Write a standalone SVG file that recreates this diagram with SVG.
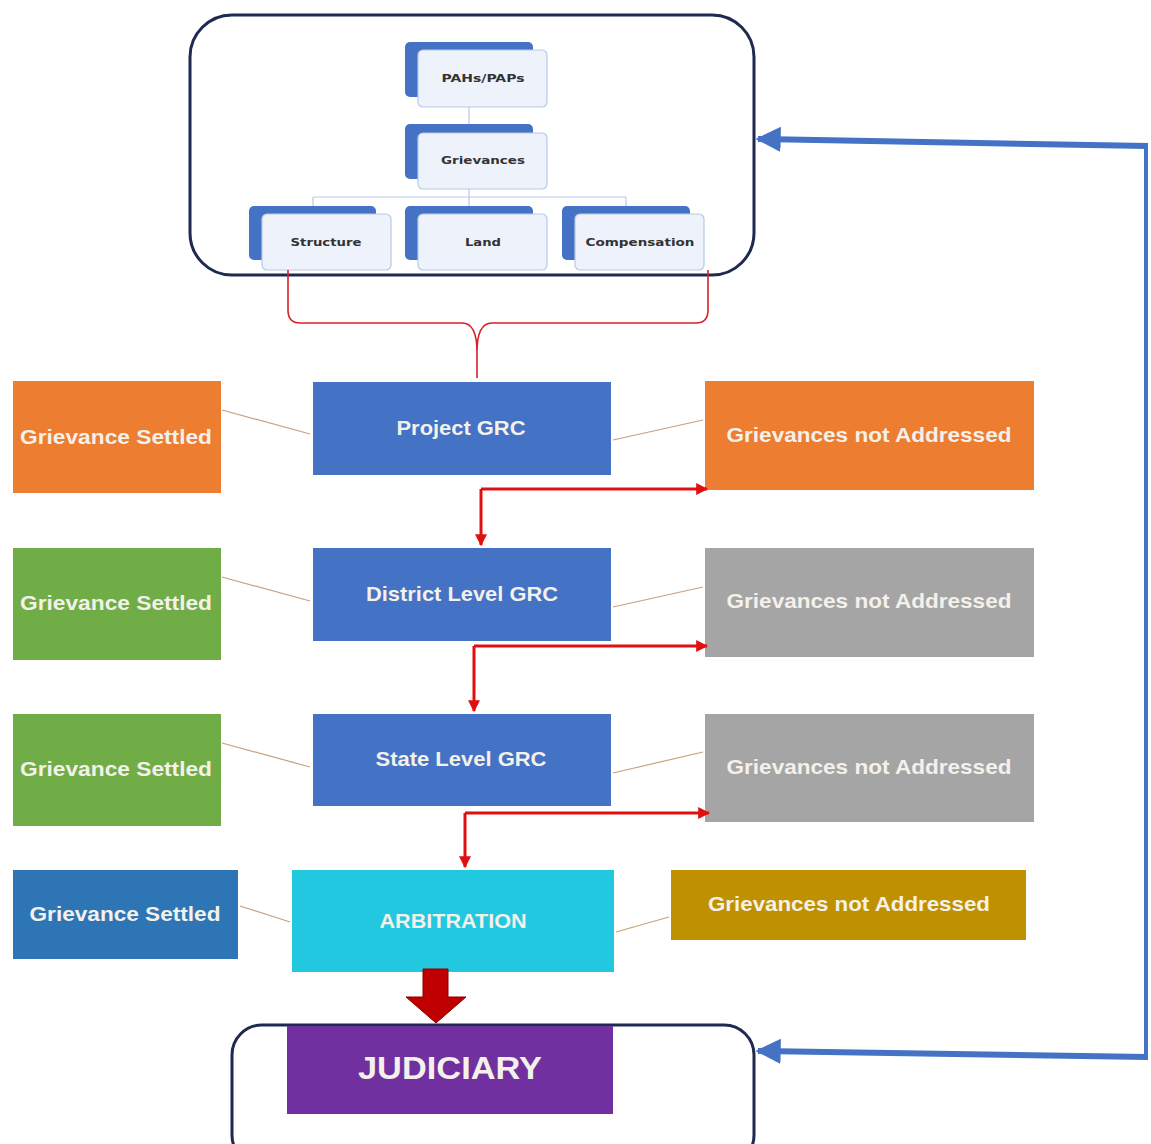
<svg xmlns="http://www.w3.org/2000/svg" width="1151" height="1144" viewBox="0 0 1151 1144">
<defs>
<style>
.frame{fill:none;stroke:#1f2a50;stroke-width:3}
.back{fill:#4472c4}
.front{fill:#eef2fa;stroke:#b8c9e6;stroke-width:1.2}
.otxt{font-family:"DejaVu Sans",Verdana,sans-serif;font-size:11px;font-weight:bold;fill:#333;text-anchor:middle}
.org{stroke:#b8c9e6;stroke-width:1.2;fill:none}
.t{font-family:"Liberation Sans",Arial,sans-serif;font-size:21px;font-weight:bold;fill:#f4f0ea;text-anchor:middle;dominant-baseline:middle}
.thin{stroke:#c8a07c;stroke-width:1.2;fill:none}
.red{stroke:#e01010;stroke-width:3;fill:none}
.brace{stroke:#d8202a;stroke-width:1.6;fill:none}
.blue{stroke:#4472c4;stroke-width:6;fill:none}
</style>
<marker id="ra" viewBox="0 0 10 10" refX="9" refY="5" markerWidth="4" markerHeight="4" orient="auto" markerUnits="strokeWidth">
<path d="M0,0 L10,5 L0,10 z" fill="#e01010"/>
</marker>
<marker id="ba" viewBox="0 0 10 10" refX="9" refY="5" markerWidth="4.2" markerHeight="4.2" orient="auto" markerUnits="strokeWidth">
<path d="M0,0 L10,5 L0,10 z" fill="#4472c4"/>
</marker>
</defs>
<rect width="1151" height="1144" fill="#ffffff"/>

<g id="top-frame">
<rect class="frame" x="190" y="15" width="564" height="260" rx="42"/>
</g>

<g id="org-lines">
<line class="org" x1="469" y1="107" x2="469" y2="124"/>
<line class="org" x1="469" y1="189" x2="469" y2="197"/>
<line class="org" x1="313" y1="197" x2="626" y2="197"/>
<line class="org" x1="313" y1="197" x2="313" y2="206"/>
<line class="org" x1="469" y1="197" x2="469" y2="206"/>
<line class="org" x1="626" y1="197" x2="626" y2="206"/>
</g>

<g id="node-paps">
<rect class="back" x="405" y="42" width="128" height="55" rx="5"/>
<rect class="front" x="418" y="50" width="129" height="57" rx="5"/>
<text class="otxt" x="483" y="82" textLength="83" lengthAdjust="spacingAndGlyphs">PAHs/PAPs</text>
</g>
<g id="node-grievances">
<rect class="back" x="405" y="124" width="128" height="55" rx="5"/>
<rect class="front" x="418" y="133" width="129" height="56" rx="5"/>
<text class="otxt" x="483" y="164" textLength="84" lengthAdjust="spacingAndGlyphs">Grievances</text>
</g>
<g id="node-structure">
<rect class="back" x="249" y="206" width="127" height="54" rx="5"/>
<rect class="front" x="262" y="214" width="129" height="56" rx="5"/>
<text class="otxt" x="326" y="246" textLength="71" lengthAdjust="spacingAndGlyphs">Structure</text>
</g>
<g id="node-land">
<rect class="back" x="405" y="206" width="128" height="54" rx="5"/>
<rect class="front" x="418" y="214" width="129" height="56" rx="5"/>
<text class="otxt" x="483" y="246" textLength="36" lengthAdjust="spacingAndGlyphs">Land</text>
</g>
<g id="node-compensation">
<rect class="back" x="562" y="206" width="128" height="54" rx="5"/>
<rect class="front" x="575" y="214" width="129" height="56" rx="5"/>
<text class="otxt" x="640" y="246" textLength="109" lengthAdjust="spacingAndGlyphs">Compensation</text>
</g>

<g id="node-project-grc">
<rect x="313" y="382" width="298" height="93" fill="#4472c4"/>
<text class="t" x="461" y="429" textLength="129" lengthAdjust="spacingAndGlyphs">Project GRC</text>
</g>
<g id="node-settled-1">
<rect x="13" y="381" width="208" height="112" fill="#ed7d31"/>
<text class="t" x="116" y="438" textLength="192" lengthAdjust="spacingAndGlyphs">Grievance Settled</text>
</g>
<g id="node-notaddr-1">
<rect x="705" y="381" width="329" height="109" fill="#ed7d31"/>
<text class="t" x="869" y="436" textLength="285" lengthAdjust="spacingAndGlyphs">Grievances not Addressed</text>
</g>

<g id="node-district-grc">
<rect x="313" y="548" width="298" height="93" fill="#4472c4"/>
<text class="t" x="462" y="595" textLength="192" lengthAdjust="spacingAndGlyphs">District Level GRC</text>
</g>
<g id="node-settled-2">
<rect x="13" y="548" width="208" height="112" fill="#70ad47"/>
<text class="t" x="116" y="604" textLength="192" lengthAdjust="spacingAndGlyphs">Grievance Settled</text>
</g>
<g id="node-notaddr-2">
<rect x="705" y="548" width="329" height="109" fill="#a5a5a5"/>
<text class="t" x="869" y="602" textLength="285" lengthAdjust="spacingAndGlyphs">Grievances not Addressed</text>
</g>

<g id="node-state-grc">
<rect x="313" y="714" width="298" height="92" fill="#4472c4"/>
<text class="t" x="461" y="760" textLength="171" lengthAdjust="spacingAndGlyphs">State Level GRC</text>
</g>
<g id="node-settled-3">
<rect x="13" y="714" width="208" height="112" fill="#70ad47"/>
<text class="t" x="116" y="770" textLength="192" lengthAdjust="spacingAndGlyphs">Grievance Settled</text>
</g>
<g id="node-notaddr-3">
<rect x="705" y="714" width="329" height="108" fill="#a5a5a5"/>
<text class="t" x="869" y="768" textLength="285" lengthAdjust="spacingAndGlyphs">Grievances not Addressed</text>
</g>

<g id="node-arbitration">
<rect x="292" y="870" width="322" height="102" fill="#21c8df"/>
<text class="t" x="453" y="922" textLength="147" lengthAdjust="spacingAndGlyphs">ARBITRATION</text>
</g>
<g id="node-settled-4">
<rect x="13" y="870" width="225" height="89" fill="#2e75b6"/>
<text class="t" x="125" y="915" textLength="191" lengthAdjust="spacingAndGlyphs">Grievance Settled</text>
</g>
<g id="node-notaddr-4">
<rect x="671" y="870" width="355" height="70" fill="#bf9000"/>
<text class="t" x="849" y="905" textLength="282" lengthAdjust="spacingAndGlyphs">Grievances not Addressed</text>
</g>

<g id="node-judiciary">
<rect class="frame" x="232" y="1025" width="522" height="140" rx="30"/>
<rect x="287" y="1026" width="326" height="88" fill="#7030a0"/>
<text x="450" y="1071" font-family="'Liberation Sans',Arial,sans-serif" font-size="31" font-weight="bold" fill="#f4f0ea" text-anchor="middle" dominant-baseline="middle" textLength="184" lengthAdjust="spacingAndGlyphs">JUDICIARY</text>
</g>

<g id="connectors">
<path class="brace" d="M288,270 L288,310 Q288,323 300,323 L462,323 Q477,323 477,352 L477,378 M477,352 Q477,323 492,323 L696,323 Q708,323 708,310 L708,270"/>
<line class="thin" x1="222" y1="410" x2="310" y2="434"/>
<line class="thin" x1="613" y1="440" x2="703" y2="420"/>
<line class="thin" x1="222" y1="577" x2="310" y2="601"/>
<line class="thin" x1="613" y1="607" x2="703" y2="587"/>
<line class="thin" x1="222" y1="743" x2="310" y2="767"/>
<line class="thin" x1="613" y1="773" x2="703" y2="752"/>
<line class="thin" x1="240" y1="906" x2="290" y2="922"/>
<line class="thin" x1="616" y1="932" x2="669" y2="917"/>
<path class="red" d="M481,489 L707,489" marker-end="url(#ra)"/>
<path class="red" d="M481,489 L481,545" marker-end="url(#ra)"/>
<path class="red" d="M474,646 L707,646" marker-end="url(#ra)"/>
<path class="red" d="M474,646 L474,711" marker-end="url(#ra)"/>
<path class="red" d="M465,813 L709,813" marker-end="url(#ra)"/>
<path class="red" d="M465,813 L465,867" marker-end="url(#ra)"/>
<path d="M423,969 L448,969 L448,997 L466,997 L436,1023 L406,997 L423,997 Z" fill="#c00000" stroke="#8a0000" stroke-width="1"/>
<path class="blue" d="M1146,146 L1146,1057" style="stroke-width:4"/>
<path class="blue" d="M1148,146 L758,139" marker-end="url(#ba)"/>
<path class="blue" d="M1148,1057 L758,1051" marker-end="url(#ba)"/>
</g>
</svg>
